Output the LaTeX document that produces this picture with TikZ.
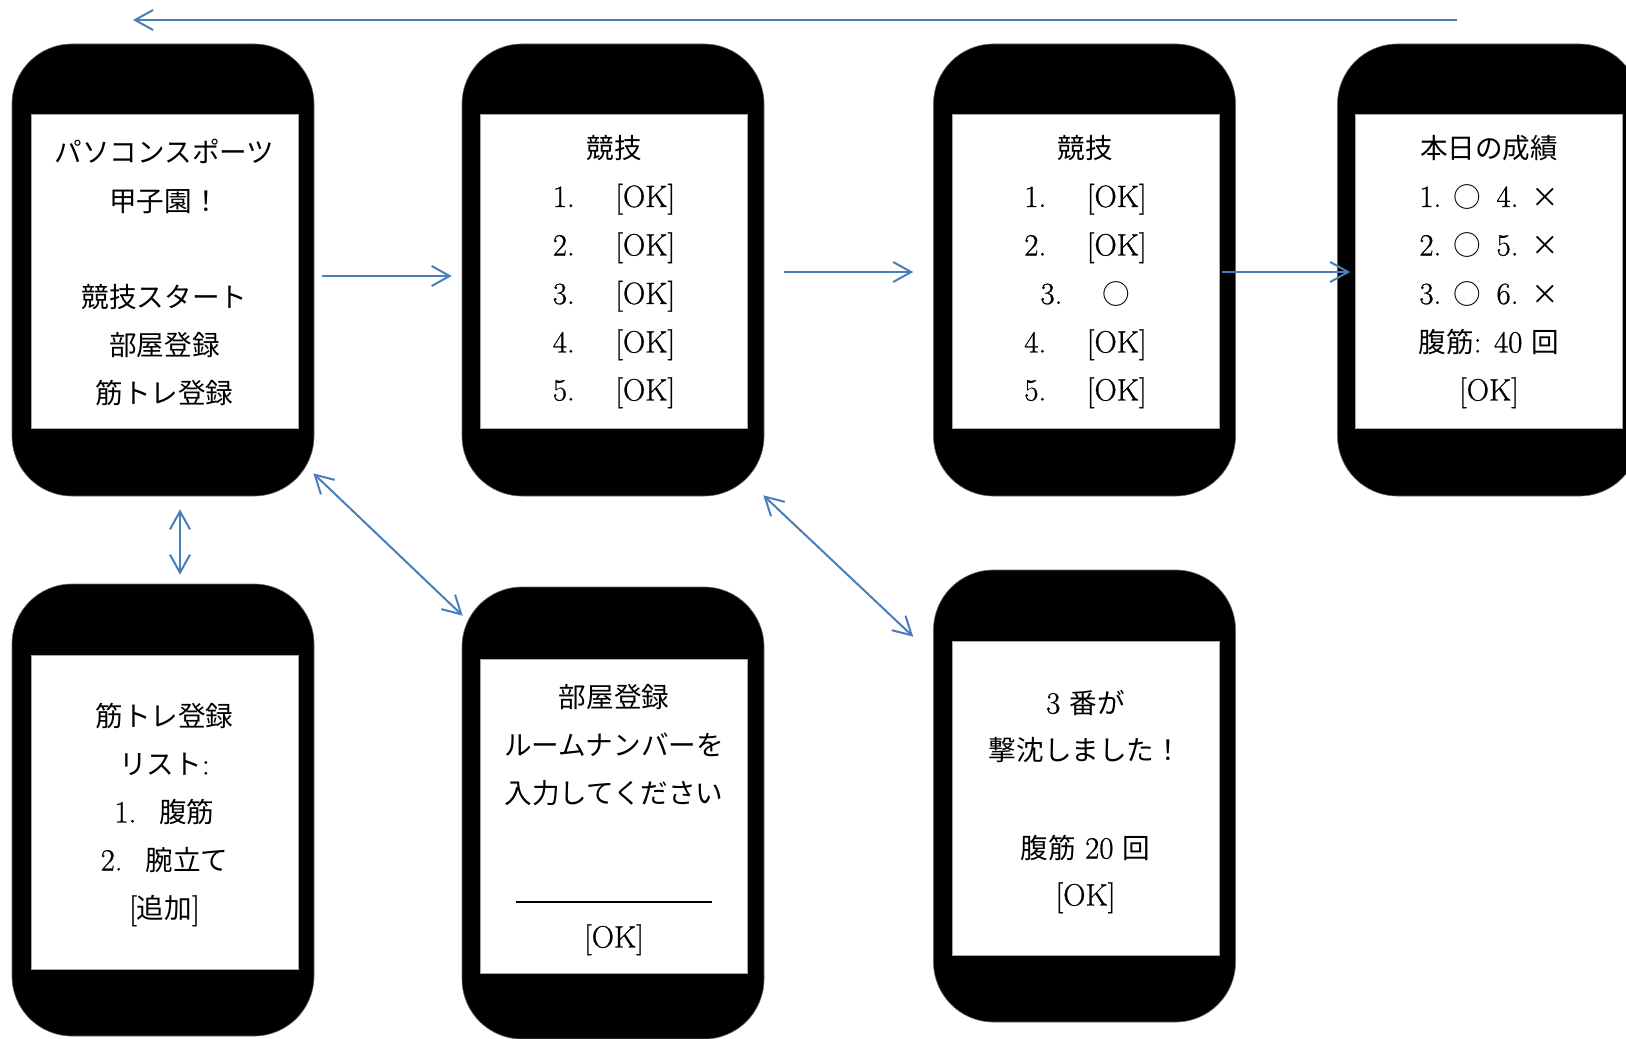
\documentclass[tikz,border=0pt]{standalone}
\usepackage{fontspec}
\setmainfont{Latin Modern Roman}[Scale=1.12, FakeBold=0.8]
\newfontfamily\jp{Noto Sans CJK JP}
\usetikzlibrary{arrows.meta,calc}
\definecolor{arrowblue}{HTML}{4A7EBB}
\begin{document}
\begin{tikzpicture}[x=0.5pt,y=-0.5pt,
  phone/.style={fill=black, draw=black!60, line width=0.3pt, rounded corners=30pt,
    minimum width=151pt, minimum height=226pt, inner sep=0pt},
  screen/.style={fill=white, draw=black!35, line width=0.4pt,
    minimum width=133.5pt, minimum height=157pt, inner sep=0pt},
  txt/.style={inner sep=0pt, text height=10.5pt, text depth=0pt,
    font=\fontsize{13.8}{16}\selectfont},
  conn/.style={draw=arrowblue, line width=1pt},
  tip/.style={-{Straight Barb[length=9pt,width=10pt]}},
  tips/.style={{Straight Barb[length=9pt,width=10pt]}-{Straight Barb[length=9pt,width=10pt]}},
]
\useasboundingbox (0,0) rectangle (1626,1038);
\clip (0,0) rectangle (1626,1038);
\fill[white] (0,0) rectangle (1626,1038);

% phones
\node[phone] (p1) at (163,270) {};
\node[phone] (p2) at (613,270) {};
\node[phone] (p3) at (1084.5,270) {};
\node[phone] (p4) at (1488.5,270) {};
\node[phone] (p5) at (163,810) {};
\node[phone] (p6) at (613,813) {};
\node[phone] (p7) at (1084.5,796) {};

% screens
\node[screen] (s1) at (164.5,271.5) {};
\node[screen] (s2) at (614,271.5) {};
\node[screen] (s3) at (1085.5,271.5) {};
\node[screen] (s4) at (1489,271.5) {};
\node[screen] (s5) at (164.5,812.5) {};
\node[screen] (s6) at (614,816.5) {};
\node[screen] (s7) at (1085.5,798.5) {};

% screen 1
\node[txt] (t1a) at (164.5,152) {\jp パソコンスポーツ};
\node[txt] (t1b) at (164.5,201) {\jp 甲子園！};
\node[txt] (t1c) at (164.5,297) {\jp 競技スタート};
\node[txt] (t1d) at (164.5,345) {\jp 部屋登録};
\node[txt] (t1e) at (164.5,393) {\jp 筋トレ登録};

% screen 2
\node[txt] (t2h) at (614,148) {\jp 競技};
\foreach \n/\y in {1/196.5,2/245,3/293.5,4/342,5/390}
  \node[txt] (t2r\n) at (614,\y) {\n.\hspace{20.3pt}[OK]};

% screen 3
\node[txt] (t3h) at (1085.5,148) {\jp 競技};
\foreach \n/\y in {1/196.5,2/245,4/342,5/390}
  \node[txt] (t3r\n) at (1085.5,\y) {\n.\hspace{20.3pt}[OK]};
\node[txt] (t3r3) at (1085.5,293.5) {3.\hspace{20.3pt}\makebox[13.8pt]{\jp ○}};

% screen 4
\node[txt] (t4h) at (1489,148) {\jp 本日の成績};
\foreach \a/\b/\y in {1/4/196.5,2/5/245,3/6/293.5}
  \node[txt] (t4r\a) at (1489,\y) {\a.\hspace{6pt}\makebox[13.8pt]{\jp ○}\hspace{7.8pt}\b.\hspace{6.3pt}\makebox[13.8pt]{\jp ×}};
\node[txt] (t4s) at (1489,342) {{\jp 腹筋}: 40 {\jp 回}};
\node[txt] (t4ok) at (1489,390) {[OK]};

% screen 5
\node[txt] (t5a) at (164.5,716) {\jp 筋トレ登録};
\node[txt] (t5b) at (164.5,764) {{\jp リスト}:};
\node[txt] (t5c) at (164.5,812) {1.\hspace{11.5pt}{\jp 腹筋}};
\node[txt] (t5d) at (164.5,860) {2.\hspace{11.5pt}{\jp 腕立て}};
\node[txt] (t5e) at (164.5,908) {[{\jp 追加}]};

% screen 6
\node[txt] (t6a) at (614,697) {\jp 部屋登録};
\node[txt] (t6b) at (614,745) {\jp ルームナンバーを};
\node[txt] (t6c) at (614,793) {\jp 入力してください};
\draw[line width=0.7pt] (516,902) -- (712,902);
\node[txt] (t6ok) at (614,937) {[OK]};

% screen 7
\node[txt] (t7a) at (1085.5,703) {3 {\jp 番が}};
\node[txt] (t7b) at (1085.5,750) {\jp 撃沈しました！};
\node[txt] (t7c) at (1085.5,848) {{\jp 腹筋} 20 {\jp 回}};
\node[txt] (t7ok) at (1085.5,895) {[OK]};

% connectors
\coordinate (topR) at (1457,20);
\coordinate (topL) at (133,20);
\draw[conn,tip] (topR) -- (topL);
\draw[conn,tip] ($(p1.east)+(8,6)$) -- ($(p2.west)+(-10,6)$);
\draw[conn,tip] ($(p2.east)+(20,2)$) -- ($(p3.west)+(-20,2)$);
\draw[conn,tip] ($(p3.east)+(-14,2)$) -- ($(p4.west)+(13,2)$);
\draw[conn,tips] ($(p1.south)+(17,13)$) -- ($(p5.north)+(17,-9)$);
\draw[conn,tips] ($(p1.south east)+(-1,-23)$) -- ($(p6.north west)+(1,29)$);
\draw[conn,tips] ($(p2.south east)+(-1,-1)$) -- ($(p7.north west)+(-20,67)$);
\end{tikzpicture}
\end{document}
